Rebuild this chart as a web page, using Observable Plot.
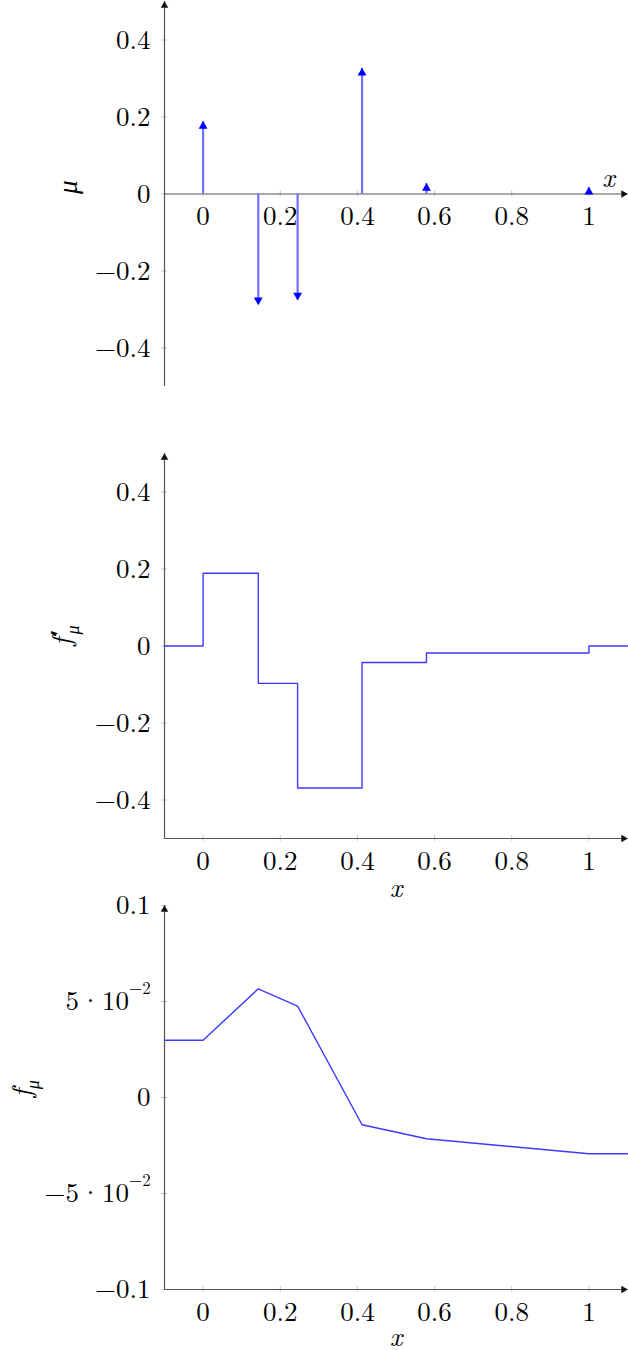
<!DOCTYPE html>
<html><head><meta charset="utf-8">
<script src="https://cdn.jsdelivr.net/npm/d3@7"></script>
<script src="https://cdn.jsdelivr.net/npm/@observablehq/plot@0.6"></script>
<style>
body{margin:0;background:#fff;}
#wrap{position:relative;width:628px;height:1350px;background:#fff;}
#wrap svg{position:absolute;left:0;}
</style></head><body><div id="wrap"></div>
<script>
// ---- data ----
const xTicks = [0, 0.2, 0.4, 0.6, 0.8, 1];
const xTickLabels = ["0", "0.2", "0.4", "0.6", "0.8", "1"];
const muTicks = [-0.4, -0.2, 0, 0.2, 0.4];
const muTickLabels = ["−0.4", "−0.2", "0", "0.2", "0.4"];
const spikeX = [0, 0.143, 0.245, 0.412, 0.579, 1];
const spikeMu = [0.188, -0.287, -0.275, 0.326, 0.027, 0.017];
const breakX = [-0.1, 0, 0.143, 0.245, 0.412, 0.579, 1, 1.1];
const fPrime = [0, 0.189, -0.097, -0.369, -0.043, -0.018, 0, 0];
const fValue = [0.0298, 0.0298, 0.0566, 0.0476, -0.0142, -0.0215, -0.0293, -0.0293];
const fTicks = [-0.1, -0.05, 0, 0.05, 0.1];
const fTickLabels = ["−0.1", "−5 · 10^−2", "0", "5 · 10^−2", "0.1"];
const labelMu = "μ", labelFp = "f′_μ", labelF = "f_μ", labelX = "x";

const FONT = "'Latin Modern Roman','CMU Serif','Liberation Serif',serif";
const FS = 27;
const AXIS = "#555";
const TICK = "#c8c8c8";
const XDOM = [-0.1, 1.1];

const spikes = spikeX.map((x, i) => ({x, mu: spikeMu[i]}));
const steps = breakX.map((x, i) => ({x, v: fPrime[i]}));
const fline = breakX.map((x, i) => ({x, v: fValue[i]}));

function richify(svg) {
  d3.select(svg).selectAll("text").each(function () {
    const s = this.textContent;
    const el = d3.select(this);
    if (s.includes("^")) {
      const [base, sup] = s.split("^");
      const parts = base.split(" · ");
      el.text(null);
      el.append("tspan").text(parts[0]);
      el.append("tspan").attr("dx", 1).text("·");
      el.append("tspan").attr("dx", 1).text(parts[1]);
      el.append("tspan").attr("font-size", FS * 0.62).attr("dy", -FS * 0.58).text(sup);
    } else if (s.includes("_")) {
      const [base, sub] = s.split("_");
      el.text(null);
      el.append("tspan").attr("font-style", "italic").text(base[0]);
      if (base.length > 1) el.append("tspan").attr("font-style", "normal").attr("font-size", FS * 1.05).attr("dx", 2).attr("dy", -2).text(base.slice(1));
      el.append("tspan").attr("font-style", "italic").attr("font-size", FS * 0.68)
        .attr("dx", base.length > 1 ? -5 : 0).attr("dy", FS * 0.28 + (base.length > 1 ? 2 : 0)).text(sub);
    }
  });
}

function panel(top, mt, plotH, mb, ydom, marks) {
  const svg = Plot.plot({
    width: 628, height: mt + plotH + mb,
    marginLeft: 164, marginRight: 1, marginTop: mt, marginBottom: mb,
    x: {domain: XDOM, axis: null},
    y: {domain: ydom, axis: null},
    style: {background: "transparent", overflow: "visible", fontFamily: FONT, fontSize: FS + "px", color: "black"},
    marks
  });
  svg.style.top = top + "px";
  richify(svg);
  document.getElementById("wrap").appendChild(svg);
}

function axisMarks(ydom, yTicks, yLabels, xAxisY, xLabelDy, yLabel, yLabelDx) {
  return [
    // tick marks
    Plot.ruleY(yTicks, {y: d => d, x1: XDOM[0], x2: XDOM[0], insetLeft: -3, insetRight: -3, stroke: TICK}),
    Plot.ruleX(xTicks, {x: d => d, y1: xAxisY, y2: xAxisY, insetTop: -3, insetBottom: -3, stroke: TICK}),
    // axis lines
    Plot.ruleX([XDOM[0]], {x: d => d, y1: ydom[0], y2: ydom[1], stroke: AXIS, strokeWidth: 1.2}),
    Plot.ruleY([xAxisY], {y: d => d, x1: XDOM[0], x2: XDOM[1], stroke: AXIS, strokeWidth: 1.2}),
    // axis arrowheads
    Plot.dot([XDOM[0]], {x: d => d, y: ydom[1], symbol: "triangle", r: 2.8, fill: "#111", stroke: "none", dy: 4}),
    Plot.dot([XDOM[1]], {x: d => d, y: xAxisY, symbol: "triangle", r: 2.8, fill: "#111", stroke: "none", rotate: 90, dx: -4}),
    // tick labels
    Plot.text(yTicks, {x: XDOM[0], y: d => d, text: (d, i) => yLabels[i], textAnchor: "end", dx: -14, fill: "black"}),
    Plot.text(xTicks, {x: d => d, y: xAxisY, text: (d, i) => xTickLabels[i], dy: xLabelDy, fill: "black"}),
    // y label
    Plot.text([yLabel], {text: d => d, frameAnchor: "left", dx: yLabelDx, rotate: -90, fontStyle: "italic", fill: "black"})
  ];
}

// Panel 1: mu (stems)
panel(-19.5, 20, 385, 20, [-0.5, 0.5], [
  ...axisMarks([-0.5, 0.5], muTicks, muTickLabels, 0, 22, labelMu, -96),
  Plot.text([labelX], {text: d => d, x: XDOM[1], y: 0, dx: -19, dy: -16, fontStyle: "italic", fill: "black"}),
  Plot.ruleX(spikes, {x: "x", y1: 0, y2: "mu", stroke: "#7070ff", strokeWidth: 2.2}),
  Plot.dot(spikes.filter(d => d.mu > 0), {x: "x", y: "mu", symbol: "triangle", r: 3.3, fill: "blue", stroke: "none", dy: 4.5}),
  Plot.dot(spikes.filter(d => d.mu < 0), {x: "x", y: "mu", symbol: "triangle", r: 3.3, fill: "blue", stroke: "none", rotate: 180, dy: -4.5})
]);

// Panel 2: f'
panel(432.5, 20, 385, 65, [-0.5, 0.5], [
  ...axisMarks([-0.5, 0.5], muTicks, muTickLabels, -0.5, 23, labelFp, -102),
  Plot.text([labelX], {text: d => d, x: 0.5, y: -0.5, lineAnchor: "middle", dy: 50, fontStyle: "italic", fill: "black"}),
  Plot.line(steps, {x: "x", y: "v", curve: "step-after", stroke: "#3a3aff", strokeWidth: 1.4})
]);

// Panel 3: f
panel(885, 20, 384, 61, [-0.1, 0.1], [
  ...axisMarks([-0.1, 0.1], fTicks, fTickLabels, -0.1, 23, labelF, -142),
  Plot.text([labelX], {text: d => d, x: 0.5, y: -0.1, lineAnchor: "middle", dy: 48, fontStyle: "italic", fill: "black"}),
  Plot.line(fline, {x: "x", y: "v", stroke: "#3a3aff", strokeWidth: 1.4})
]);
</script></body></html>
